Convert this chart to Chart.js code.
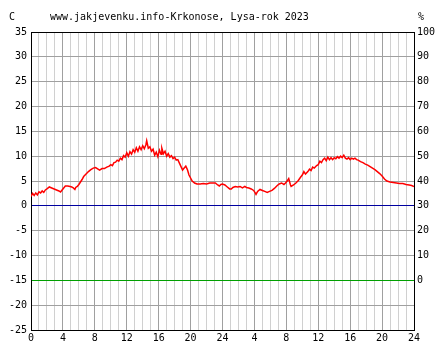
<!DOCTYPE html>
<html>
<head>
<meta charset="utf-8">
<script src="https://cdn.jsdelivr.net/npm/chart.js@4.4.1/dist/chart.umd.min.js"></script>
<style>
  html, body { margin: 0; padding: 0; background: #fff; }
  #wrap { width: 444px; height: 360px; }
</style>
</head>
<body>
<div id="wrap"><canvas id="graf" width="444" height="360"></canvas></div>
<script>
// popisky
const titulek = "www.jakjevenku.info-Krkonose, Lysa-rok 2023";
const jednotkaVlevo = "C";
const jednotkaVpravo = "%";

// hodiny (0-48, dva dny) a teploty v C
const hodiny = [
  0.0, 0.2, 0.4, 0.6, 0.8, 1.0, 1.2, 1.4, 1.6, 1.8, 2.0, 2.3, 2.6, 2.9, 3.2, 3.5, 3.7, 3.9,
  4.1, 4.3, 4.6, 4.9, 5.1, 5.3, 5.5, 5.6, 5.8, 6.0, 6.2, 6.4, 6.6, 6.9, 7.2, 7.5, 7.8,
  8.1, 8.4, 8.6, 8.9, 9.2, 9.5, 9.8, 10.0, 10.2, 10.4, 10.6, 10.8, 11.0, 11.2, 11.4, 11.6, 11.8,
  12.0, 12.2, 12.4, 12.6, 12.8, 13.0, 13.2, 13.4, 13.6, 13.8, 14.0, 14.2, 14.4, 14.5, 14.7, 14.9,
  15.1, 15.3, 15.5, 15.7, 15.9, 16.1, 16.3, 16.4, 16.6, 16.8, 17.0, 17.2, 17.4, 17.6, 17.8,
  18.0, 18.2, 18.4, 18.6, 18.8, 19.0, 19.2, 19.4, 19.6, 19.8, 20.0, 20.2, 20.5, 20.8,
  21.2, 21.6, 22.0, 22.4, 22.8, 23.1, 23.4, 23.6, 23.8, 24.0, 24.3, 24.6, 24.9, 25.1, 25.3,
  25.6, 25.9, 26.2, 26.5, 26.8, 27.0, 27.3, 27.6, 27.9, 28.1, 28.2, 28.4, 28.7, 29.0, 29.3,
  29.6, 29.9, 30.2, 30.5, 30.8, 31.1, 31.4, 31.7, 31.9, 32.1, 32.3, 32.5, 32.6, 32.9, 33.2,
  33.5, 33.8, 34.0, 34.2, 34.4, 34.7, 34.9, 35.1, 35.3, 35.5, 35.8, 36.0, 36.2, 36.4, 36.6,
  36.8, 37.0, 37.2, 37.4, 37.6, 37.8, 38.0, 38.2, 38.4, 38.6, 38.8, 39.0, 39.2, 39.4, 39.6,
  39.8, 40.0, 40.2, 40.4, 40.6, 40.8, 41.0, 41.3, 41.6, 41.9, 42.2, 42.5, 42.8, 43.1, 43.4,
  43.7, 44.0, 44.3, 44.6, 45.0, 45.4, 45.8, 46.2, 46.6, 47.0, 47.4, 47.7, 48.0
];
const teploty = [
  1.9, 2.5, 2.1, 2.6, 2.2, 2.8, 2.6, 3.0, 2.7, 3.2, 3.4, 3.8, 3.6, 3.4, 3.2, 3.0, 2.8, 3.2,
  3.6, 4.0, 4.0, 3.9, 3.8, 3.6, 3.3, 3.7, 3.9, 4.3, 4.8, 5.3, 5.9, 6.4, 6.9, 7.3, 7.6,
  7.7, 7.4, 7.2, 7.5, 7.5, 7.8, 8.0, 8.3, 8.1, 8.7, 8.8, 9.2, 9.0, 9.6, 9.3, 10.1, 9.8,
  10.7, 10.0, 10.9, 10.4, 11.3, 10.8, 11.7, 11.0, 11.9, 11.3, 12.1, 11.5, 12.3, 13.1, 11.6, 11.9,
  11.0, 11.4, 10.2, 10.8, 9.9, 11.2, 10.4, 11.6, 10.5, 11.0, 10.0, 10.5, 9.8, 10.1, 9.5,
  9.8, 9.2, 9.3, 8.6, 7.9, 7.2, 7.6, 8.0, 7.3, 6.2, 5.6, 5.0, 4.6, 4.4,
  4.4, 4.5, 4.4, 4.6, 4.6, 4.6, 4.2, 4.0, 4.3, 4.4, 4.2, 3.8, 3.4, 3.4, 3.7,
  3.9, 3.8, 3.9, 3.6, 3.9, 3.7, 3.6, 3.4, 3.1, 2.6, 2.3, 2.9, 3.3, 3.1, 2.9,
  2.7, 2.9, 3.1, 3.5, 4.0, 4.4, 4.6, 4.3, 4.6, 5.0, 5.5, 4.3, 3.9, 4.2, 4.6,
  5.1, 5.8, 6.2, 6.9, 6.4, 6.9, 7.4, 7.1, 7.8, 7.6, 8.1, 8.3, 9.0, 8.7, 9.3,
  9.6, 9.1, 9.8, 9.3, 9.7, 9.3, 9.7, 9.5, 9.9, 9.6, 10.0, 9.7, 10.2, 9.6, 9.4,
  9.7, 9.3, 9.6, 9.4, 9.6, 9.3, 9.2, 8.9, 8.7, 8.4, 8.2, 7.9, 7.6, 7.3, 6.9,
  6.5, 6.0, 5.4, 5.0, 4.8, 4.7, 4.6, 4.5, 4.5, 4.3, 4.2, 4.1, 3.9
];

// osy
const teplotaMin = -25, teplotaMax = 35, teplotaKrok = 2.5;
const vlhkostMin = -20, vlhkostMax = 100, vlhkostKrok = 10;
const hodinyMax = 48;

Chart.defaults.font.family = "'DejaVu Sans Mono', monospace";
Chart.defaults.font.size = 10;
Chart.defaults.color = "#000";

const popiskyPlugin = {
  id: 'popisky',
  afterDraw(chart) {
    const c = chart.ctx;
    c.save();
    c.font = "10px 'DejaVu Sans Mono'";
    c.fillStyle = "#000";
    c.textBaseline = "middle";
    c.textAlign = "left";
    c.fillText(jednotkaVlevo, 9, 17);
    c.fillText(titulek, 50, 17);
    c.fillText(jednotkaVpravo, 418, 17);
    c.restore();
  }
};

const body = hodiny.map((h, i) => ({ x: h, y: teploty[i] }));

new Chart(document.getElementById('graf'), {
  type: 'line',
  data: {
    datasets: [{
      data: body,
      borderColor: '#ff0000',
      borderWidth: 1.5,
      pointRadius: 0,
      tension: 0,
      yAxisID: 'y'
    }]
  },
  options: {
    responsive: false,
    animation: false,
    layout: { padding: { top: 32, left: 0, right: 0, bottom: 0 } },
    plugins: { legend: { display: false }, tooltip: { enabled: false } },
    scales: {
      x: {
        type: 'linear',
        min: 0, max: hodinyMax,
        afterFit: s => { s.height = 30; },
        ticks: {
          stepSize: 1, autoSkip: false, maxRotation: 0, padding: 2,
          callback: v => (v % 4 === 0) ? String(v > 24 ? v - 24 : v) : ''
        },
        grid: {
          drawTicks: false,
          color: ctx => (ctx.tick && ctx.tick.value % 4 === 0) ? '#a0a0a0' : '#d0d0d0'
        },
        border: { color: '#000' }
      },
      y: {
        position: 'left',
        min: teplotaMin, max: teplotaMax,
        afterFit: s => { s.width = 31; },
        ticks: {
          stepSize: teplotaKrok, padding: 4,
          callback: v => (v % 5 === 0) ? String(v) : ''
        },
        grid: {
          drawTicks: false,
          color: ctx => {
            const v = ctx.tick ? ctx.tick.value : null;
            if (v === 0) return '#0000a0';
            if (v === -15) return '#00a000';
            if (v === teplotaMax || v === teplotaMin) return '#000';
            return '#a0a0a0';
          }
        },
        border: { color: '#000' }
      },
      y2: {
        position: 'right',
        min: vlhkostMin, max: vlhkostMax,
        afterFit: s => { s.width = 30; },
        ticks: {
          stepSize: vlhkostKrok, padding: 3,
          callback: v => (v >= 0) ? String(v) : ''
        },
        grid: { drawOnChartArea: false, drawTicks: false },
        border: { color: '#000' }
      }
    }
  },
  plugins: [popiskyPlugin]
});
</script>
</body>
</html>
